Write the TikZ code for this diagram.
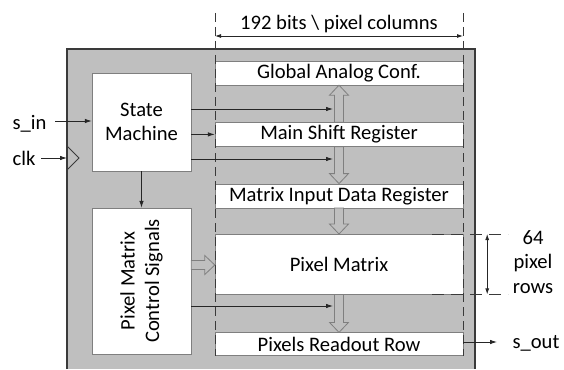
\documentclass[tikz,border=0pt]{standalone}
\usepackage{fontspec}
\setmainfont{Carlito}
\usetikzlibrary{positioning,calc,arrows.meta}

\definecolor{boardgray}{HTML}{BFBFBF}
\definecolor{edgegray}{HTML}{7F7F7F}
\definecolor{darkline}{HTML}{3A3A3A}

\begin{document}
\begin{tikzpicture}[x=1pt,y=-1pt,
  font=\fontsize{20.6}{24.5}\selectfont,
  regblock/.style={
    rectangle,
    draw=edgegray,
    fill=white,
    inner sep=0pt,
    minimum width=248pt,
    minimum height=24pt
  },
  ctrlblock/.style={
    rectangle,
    draw=edgegray,
    fill=white,
    inner sep=0pt,
    minimum width=99pt,
    align=center
  },
  sig/.style={-{Latex[length=7pt,width=4.5pt]}, line width=0.8pt, draw=black!85},
  dimarrow/.style={{Latex[length=6pt,width=4pt]}-{Latex[length=6pt,width=4pt]}, line width=0.8pt, draw=black!85},
  colline/.style={dash pattern=on 9pt off 5pt, draw=darkline, line width=0.8pt},
  fatarrow/.style={
    draw=edgegray,
    fill=boardgray,
    line width=0.8pt,
    to path={
      ($(\tikztostart)!4.5pt!90:(\tikztotarget)$)
      -- ($(\tikztotarget)!10pt!(\tikztostart)!4.5pt!-90:(\tikztostart)$)
      -- ($(\tikztotarget)!10pt!(\tikztostart)!9.5pt!-90:(\tikztostart)$)
      -- (\tikztotarget)
      -- ($(\tikztotarget)!10pt!(\tikztostart)!9.5pt!90:(\tikztostart)$)
      -- ($(\tikztotarget)!10pt!(\tikztostart)!4.5pt!90:(\tikztostart)$)
      -- ($(\tikztostart)!4.5pt!-90:(\tikztotarget)$)
      -- cycle
    }
  }]
  \useasboundingbox (0,0) rectangle (564,369);

  % chip area
  \fill[boardgray] (67,49) rectangle (475,369);
  \draw[darkline,line width=1.2pt] (67,369) -- (67,49) -- (475,49) -- (475,369);
  \draw[darkline,line width=0.8pt] (67,146) -- (79,158) -- (67,170);

  % control side
  \node (sm) [ctrlblock,minimum height=98pt] at (141.5,122) {State\\Machine};
  \node (pms) [ctrlblock,minimum height=146pt] at (141.5,281) {};
  \node (pmslabel) [rotate=90,align=center] at (pms.center) {Pixel Matrix\\Control Signals};

  % register column
  \node (gac) [regblock] at (339,73) {Global Analog Conf.};
  \node (msr) [regblock,below=37pt of gac] {Main Shift Register};
  \node (mid) [regblock,below=37pt of msr] {Matrix Input Data Register};
  \node (pmx) [regblock,minimum height=60pt,below=26pt of mid] {Pixel Matrix};
  \node (prr) [regblock,minimum height=23pt,below=38pt of pmx] {Pixels Readout Row};

  % column width
  \coordinate (colL) at (215,13);
  \coordinate (colR) at (463,13);
  \draw[colline] (colL) -- (colL |- prr.south);
  \draw[colline] (colR) -- (colR |- prr.south);
  \draw[dimarrow] ($(colL)+(0,23)$) -- ($(colR)+(0,23)$);
  \node (coltxt) [anchor=base] at (339,30) {192 bits \textbackslash\ pixel columns};

  % row height
  \draw[colline,dash pattern=on 12pt off 7pt] ($(pmx.north east)+(-31,0)$) -- ++(76,0);
  \draw[colline,dash pattern=on 12pt off 7pt] ($(pmx.south east)+(-31,0)$) -- ++(76,0);
  \draw[dimarrow] ($(pmx.north east)+(24,0)$) -- ($(pmx.south east)+(24,0)$);
  \node (rowtxt) [align=center] at (533,262) {64\\pixel\\rows};

  % data path between registers
  \draw[fatarrow] (msr.north) to (gac.south);
  \draw[fatarrow] (msr.south) to (mid.north);
  \draw[fatarrow] (mid.south) to (pmx.north);
  \draw[fatarrow] (pmx.south) to (prr.north);
  \coordinate (pmsout) at (pms.east |- 0,265);
  \coordinate (pmxin) at (pmx.west |- 0,265);
  \draw[fatarrow] (pmsout) to (pmxin);

  % control signals
  \coordinate (bus1) at (333,109);
  \coordinate (bus2) at (333,159);
  \coordinate (bus3) at (333,306);
  \draw[sig] (sm.east |- bus1) -- (bus1);
  \draw[sig] (sm.east |- msr.west) -- (msr.west);
  \draw[sig] (sm.east |- bus2) -- (bus2);
  \draw[sig] (pms.east |- bus3) -- (bus3);
  \draw[sig] (sm.south) -- (pms.north);

  % inputs and output
  \node (sin) [anchor=base east] at (50,129) {s\_in};
  \coordinate (sinfoot) at (55,121);
  \draw[sig] (sinfoot) -- (sinfoot -| sm.west);
  \node (clk) [anchor=base east] at (39,165) {clk};
  \coordinate (clkfoot) at (41,158);
  \draw[sig] (clkfoot) -- (67,158);
  \coordinate (soutfoot) at (497,342);
  \draw[sig] (prr.east |- soutfoot) -- (soutfoot);
  \node (sout) [anchor=base west] at (509,348) {s\_out};
\end{tikzpicture}
\end{document}
